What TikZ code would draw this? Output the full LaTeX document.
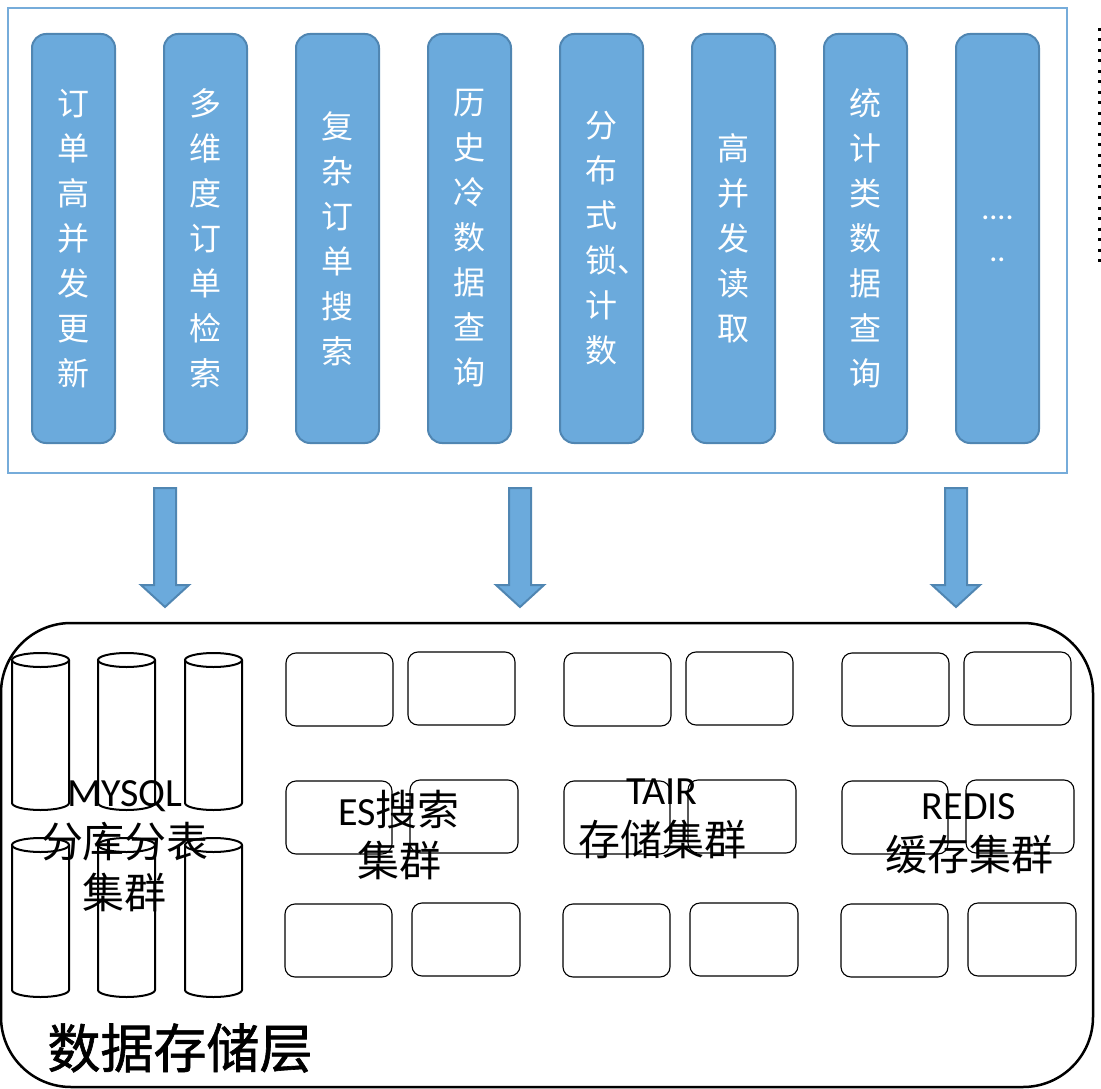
\documentclass[tikz,border=0pt]{standalone}
\usepackage{fontspec}
\setmainfont{Carlito}
\newfontfamily\cjk{Noto Sans CJK SC}
\newfontfamily\cjkheavy[FakeBold=1.2]{Noto Sans CJK SC}
\newcommand{\zh}[1]{{\cjk\fontsize{42}{51}\selectfont #1}}

\definecolor{colfill}{RGB}{107,170,220}
\definecolor{coledge}{RGB}{80,134,178}
\definecolor{frameblue}{RGB}{118,172,218}

\begin{document}
\begin{tikzpicture}
        [x=1pt, y=-1pt, semithick,
         frame/.style={draw=frameblue, line width=2.5pt, minimum width=1059pt, minimum height=465pt},
         usecase/.style={draw=coledge, line width=2pt, fill=colfill, rounded corners=14pt,
                         minimum width=83pt, minimum height=409pt, inner sep=0pt, text=white,
                         align=center, font=\cjk\fontsize{32}{45}\selectfont},
         blockarrow/.style={draw=coledge, line width=2pt, fill=colfill},
         layer/.style={draw=black, line width=2.5pt, rounded corners=70pt,
                       minimum width=1092pt, minimum height=464pt},
         server/.style={draw=black, line width=1.1pt, rounded corners=10pt},
         db/.style={draw=black, line width=2pt},
         cluster/.style={align=center, inner sep=0pt, font=\fontsize{40}{51}\selectfont}]
        \useasboundingbox (0,0) rectangle (1101,1089);

        % application side
        \node[frame] (apps) at (537.5,240.5) {};
        \foreach \i/\txt in {0/{订\\单\\高\\并\\发\\更\\新}, 1/{多\\维\\度\\订\\单\\检\\索},
                             2/{复\\杂\\订\\单\\搜\\索}, 3/{历\\史\\冷\\数\\据\\查\\询},
                             4/{分\\布\\式\\锁\rlap{、}\\计\\数}, 5/{高\\并\\发\\读\\取},
                             6/{统\\计\\类\\数\\据\\查\\询}}
            \node[usecase] (uc\i) at (73.5+132*\i,238.5) {\txt};
        \node[usecase, font=\rmfamily\fontsize{32}{42}\selectfont] (uc7) at (997.5,238.5) {....\\..};

        \draw[line width=3pt, dash pattern=on 3pt off 7.5pt] (1099,28) -- (1099,265);

        % arrows down to the storage layer
        \foreach \nm/\ax in {la/165, ma/520, ra/956} {
            \coordinate (\nm) at (\ax,488);
            \draw[blockarrow] (\nm) ++(-11,0) -- ++(22,0) -- ++(0,97) -- ++(13,0)
                -- ++(-24,22) -- ++(-24,-22) -- ++(13,0) -- cycle;
        }

        % storage layer
        \node[layer] (store) at (547,855) {};

        \foreach \cx in {40.5,126.5,213.5}
            \foreach \ty/\by in {660/803, 845/990} {
                \draw[db] (\cx-28.5,\ty) -- (\cx-28.5,\by)
                    arc[start angle=180, end angle=0, x radius=28.5, y radius=7] -- (\cx+28.5,\ty);
                \draw[db] (\cx,\ty) ellipse[x radius=28.5, y radius=7];
            }

        \foreach \gx in {286,564,842}
            \foreach \ax/\ay/\bx/\by in {0/653/107/726, 122/652/229/725, 0/781/106/854,
                                         124/780/232/853, -1/904/106/977, 126/903/234/976}
                \draw[server] (\gx+\ax,\ay) rectangle (\gx+\bx,\by);

        \node[cluster, anchor=north] (mysql) at (125,780) {MYSQL\\\zh{分库分表}\\\zh{集群}};
        \node[cluster, anchor=north] (es) at (399,790) {ES\zh{搜索}\\\zh{集群}};
        \node[cluster, anchor=north] (tair) at (662,779) {TAIR\\\zh{存储集群}};
        \node[cluster, anchor=north] (redis) at (969,793) {REDIS\\\zh{缓存集群}};

        \node[font=\cjkheavy\fontsize{53}{60}\selectfont] (title) at (180,1048) {数据存储层};
    \end{tikzpicture}
\end{document}
